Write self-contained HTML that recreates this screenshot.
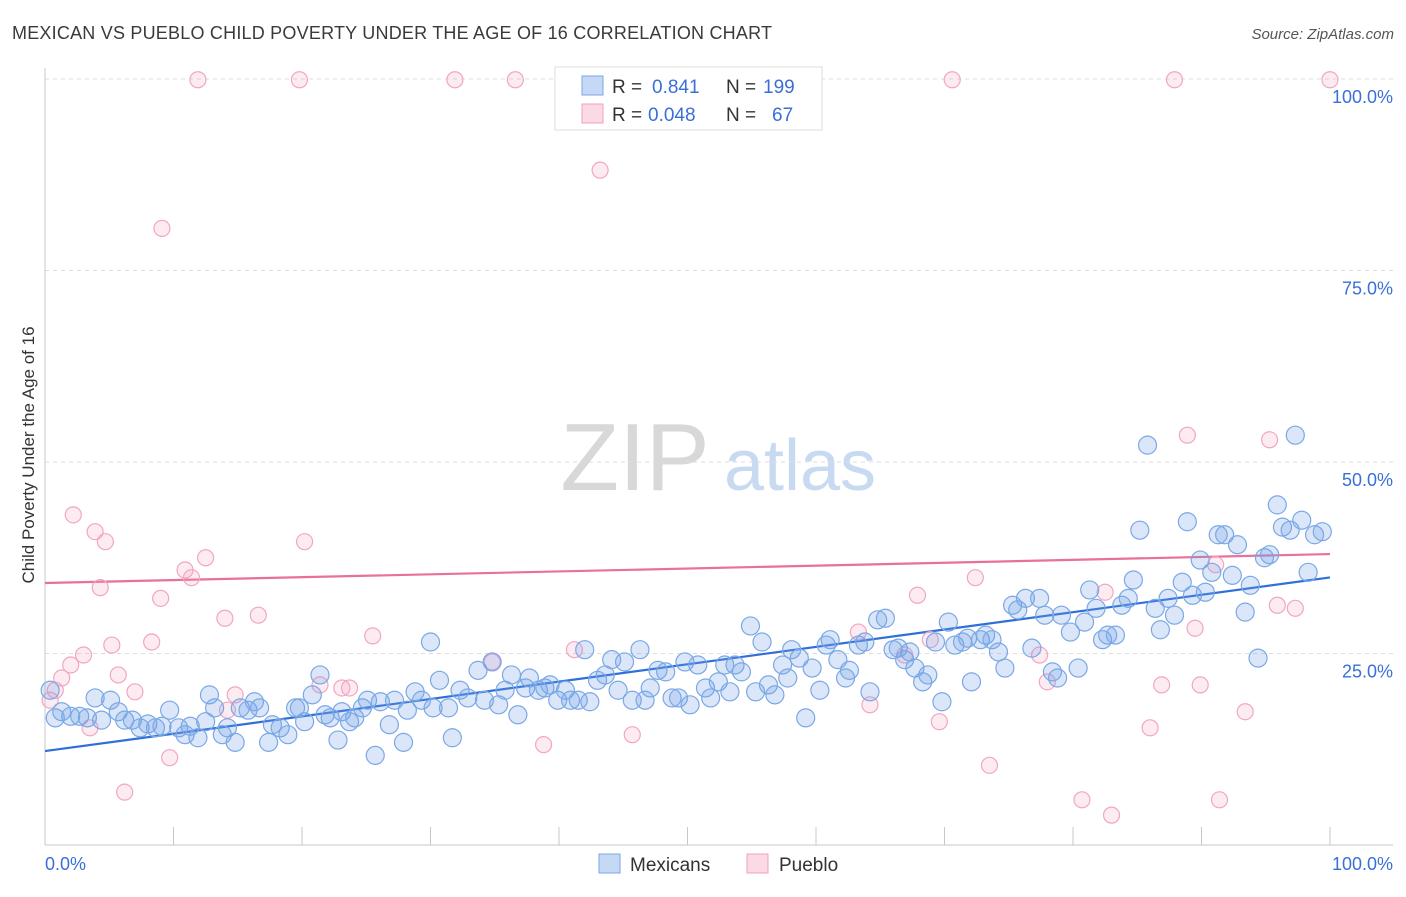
<!DOCTYPE html>
<html><head><meta charset="utf-8"><style>
body{margin:0;background:#fff;font-family:"Liberation Sans",sans-serif;}
svg text{font-family:"Liberation Sans",sans-serif;}
</style></head><body>
<svg id="chart" width="1406" height="892" viewBox="0 0 1406 892" xmlns="http://www.w3.org/2000/svg">
<text x="12" y="39" font-size="18" fill="#3a3a3a" textLength="760" lengthAdjust="spacing">MEXICAN VS PUEBLO CHILD POVERTY UNDER THE AGE OF 16 CORRELATION CHART</text>
<text x="1394" y="39" font-size="15" fill="#555" text-anchor="end" font-style="italic">Source: ZipAtlas.com</text>
<g>
<text x="635" y="490" font-size="96" fill="#d8d8d8" text-anchor="middle" font-family="Liberation Serif, serif">ZIP</text>
<text x="800" y="490" font-size="72" fill="#c8daf2" text-anchor="middle">atlas</text>
</g>
<g id="grid"></g>
<g id="axes"></g>
<g id="lines"></g>
<g id="pts"></g>
<text transform="translate(34,455) rotate(-90)" font-size="17" fill="#333" text-anchor="middle">Child Poverty Under the Age of 16</text>
<text x="45" y="870" font-size="18" fill="#3a6fd8">0.0%</text>
<text x="1393" y="870" font-size="18" fill="#3a6fd8" text-anchor="end">100.0%</text>
<g>
<rect x="555" y="67" width="267" height="63" fill="#fff" stroke="#ddd"/>
<rect x="582" y="76" width="21" height="19" fill="rgba(110,160,230,0.4)" stroke="#7aa6e6"/>
<text x="612" y="93" font-size="19" fill="#333">R =</text>
<text x="652" y="93" font-size="19" fill="#3a6fd8">0.841</text>
<text x="726" y="93" font-size="19" fill="#333">N =</text>
<text x="763" y="93" font-size="19" fill="#3a6fd8">199</text>
<rect x="582" y="104" width="21" height="19" fill="rgba(245,160,190,0.4)" stroke="#f0a0bc"/>
<text x="612" y="121" font-size="19" fill="#333">R =</text>
<text x="648" y="121" font-size="19" fill="#3a6fd8">0.048</text>
<text x="726" y="121" font-size="19" fill="#333">N =</text>
<text x="772" y="121" font-size="19" fill="#3a6fd8">67</text>
</g>
<g>
<rect x="599" y="854" width="21" height="19" fill="rgba(110,160,230,0.4)" stroke="#7aa6e6"/>
<text x="630" y="871" font-size="19" fill="#333">Mexicans</text>
<rect x="747" y="854" width="21" height="19" fill="rgba(245,160,190,0.4)" stroke="#f0a0bc"/>
<text x="779" y="871" font-size="19" fill="#333">Pueblo</text>
</g>
</svg>
<script>
const yTicks=[25,50,75,100];
const yTickLabels=["25.0%","50.0%","75.0%","100.0%"];
const xTicks=[0,10,20,30,40,50,60,70,80,90,100];
const mexX=[0.4,0.8,1.3,2.0,2.7,3.3,3.9,4.4,5.1,5.7,6.2,6.8,7.4,8.0,8.6,9.1,9.7,10.4,10.9,11.3,11.9,12.5,12.8,13.2,13.8,14.2,14.8,15.2,15.8,16.3,16.7,17.4,17.7,18.3,18.9,19.5,19.8,20.2,20.8,21.4,21.8,22.2,22.8,23.1,23.7,24.1,24.7,25.1,25.7,26.1,26.8,27.2,27.9,28.2,28.8,29.3,30.0,30.2,30.7,31.4,31.7,32.3,32.9,33.7,34.2,34.8,35.3,35.8,36.3,36.8,37.4,37.7,38.4,38.9,39.3,39.9,40.5,40.9,41.5,42.0,42.4,43.0,43.6,44.1,44.6,45.1,45.7,46.3,46.7,47.1,47.7,48.3,48.8,49.3,49.8,50.2,50.8,51.4,51.8,52.4,52.9,53.3,53.7,54.2,54.9,55.3,55.8,56.3,56.8,57.4,57.8,58.1,58.7,59.2,59.7,60.3,60.8,61.1,61.7,62.3,62.6,63.3,63.8,64.2,64.8,65.4,66.0,66.4,66.9,67.3,67.7,68.3,68.7,69.3,69.8,70.3,70.8,71.4,71.8,72.1,72.8,73.2,73.7,74.2,74.7,75.3,75.7,76.3,76.8,77.4,77.8,78.4,78.8,79.1,79.8,80.4,80.9,81.3,81.8,82.3,82.7,83.3,83.8,84.3,84.7,85.2,85.8,86.4,86.8,87.4,87.9,88.5,88.9,89.3,89.9,90.3,90.8,91.3,91.8,92.4,92.8,93.4,93.8,94.4,94.9,95.3,95.9,96.3,96.9,97.3,97.8,98.3,98.8,99.4];
const mexY=[20.2,16.6,17.4,16.8,16.8,16.6,19.2,16.3,18.9,17.4,16.3,16.3,15.3,15.8,15.3,15.5,17.6,15.3,14.4,15.5,14.0,16.1,19.6,17.9,14.4,15.3,13.4,17.9,17.6,18.7,17.9,13.4,15.7,15.3,14.4,17.9,17.9,16.1,19.6,22.2,17.0,16.6,13.7,17.4,16.1,16.6,17.9,18.9,11.7,18.7,15.7,18.9,13.4,17.6,20.0,18.9,26.5,17.9,21.5,17.9,14.0,20.2,19.2,22.8,18.9,23.9,18.3,20.2,22.2,17.0,20.5,21.8,20.2,20.5,20.9,18.9,20.2,18.9,18.9,25.5,18.7,21.5,22.2,24.2,20.2,23.9,18.9,25.5,18.9,20.5,22.8,22.6,19.2,19.2,23.9,18.3,23.5,20.5,19.2,21.3,23.5,20.0,23.5,22.6,28.6,20.0,26.5,20.9,19.6,23.5,21.8,25.5,24.4,16.6,23.1,20.2,26.1,26.8,24.2,21.8,22.8,26.1,26.5,20.0,29.4,29.6,25.5,25.7,24.2,25.2,23.1,21.3,22.2,26.5,18.7,29.1,26.1,26.5,27.0,21.3,26.8,27.4,26.8,25.2,23.1,31.3,30.7,32.2,25.7,32.2,30.0,22.6,21.8,30.0,27.8,23.1,29.1,33.3,30.9,26.8,27.4,27.4,31.3,32.2,34.6,41.1,52.2,30.9,28.1,32.2,30.0,34.3,42.2,32.6,37.2,33.0,35.6,40.5,40.5,35.2,39.2,30.4,33.9,24.4,37.5,37.9,44.4,41.5,41.1,53.5,42.4,35.6,40.5,40.9];
const pubX=[0.4,0.8,1.3,2.0,2.2,3.0,3.5,3.9,4.3,4.7,5.2,5.7,6.2,7.0,8.3,9.0,9.1,9.7,10.9,11.4,11.9,12.5,14.0,14.2,14.8,16.6,19.8,20.2,21.4,23.1,23.7,25.5,31.9,34.8,36.6,38.8,41.2,43.2,45.7,59.5,63.3,64.2,66.9,67.9,68.9,69.6,70.6,72.4,73.5,77.4,78.0,80.7,82.5,83.0,86.0,86.9,87.9,88.9,89.5,89.9,91.1,91.4,93.4,95.3,95.9,97.3,100];
const pubY=[18.9,20.2,21.8,23.5,43.1,24.8,15.3,40.9,33.6,39.6,26.1,22.2,6.9,20.0,26.5,32.2,80.5,11.4,35.9,34.9,99.9,37.5,29.6,17.6,19.6,30.0,99.9,39.6,20.9,20.5,20.5,27.3,99.9,23.9,99.9,13.1,25.5,88.1,14.4,99.9,27.8,18.3,24.8,32.6,26.8,16.1,99.9,34.9,10.4,24.8,21.3,5.9,33.0,3.9,15.3,20.9,99.9,53.5,28.3,20.9,36.6,5.9,17.4,52.9,31.3,30.9,99.9];
const X0=45,X1=1330,Y0=845,Y1=79;
const sx=v=>X0+(X1-X0)*v/100;
const sy=v=>Y0-(Y0-Y1)*v/100;
const NS="http://www.w3.org/2000/svg";
function mk(tag,attrs,parent){const e=document.createElementNS(NS,tag);for(const k in attrs)e.setAttribute(k,attrs[k]);document.getElementById(parent).appendChild(e);return e;}
yTicks.forEach((t,i)=>{
 const g=mk('line',{x1:X0,x2:1393,y1:sy(t),y2:sy(t),stroke:'#dcdcdc','stroke-dasharray':'4,4'},'grid');
 
 
 const l=mk('text',{x:1393,y:sy(t)+24,'font-size':18,fill:'#3a6fd8','text-anchor':'end'},'grid');
 l.textContent=yTickLabels[i];
 
 
});
const ya=mk('line',{x1:X0,x2:X0,y1:68,y2:Y0,stroke:'#c8c8c8'},'axes');


const xa=mk('line',{x1:X0,x2:1393,y1:Y0,y2:Y0,stroke:'#c8c8c8'},'axes');


xTicks.forEach(t=>{
 const k=mk('line',{x1:sx(t),x2:sx(t),y1:Y0,y2:Y0-18,stroke:'#c8c8c8'},'axes');
 
 
});
function fit(xs,ys){const n=xs.length;let mx=0,my=0;for(let i=0;i<n;i++){mx+=xs[i];my+=ys[i];}mx/=n;my/=n;let a=0,b=0;for(let i=0;i<n;i++){a+=(xs[i]-mx)*(ys[i]-my);b+=(xs[i]-mx)**2;}const s=a/b;return [my-s*mx,my+s*(100-mx)];}
function pts(xs,ys,r,fill,stroke,name){xs.forEach((x,i)=>{const c=mk('circle',{cx:sx(x),cy:sy(ys[i]),r:r,fill:fill,stroke:stroke,'stroke-width':1.2},'pts');
 
 });}
pts(pubX,pubY,8,'rgba(245,165,195,0.22)','#f2a6c0','pueblo-point');
pts(mexX,mexY,9,'rgba(110,160,230,0.25)','#7aa8e6','mexicans-point');
const fm=fit(mexX,mexY),fp=fit(pubX,pubY);
const lm=mk('line',{x1:sx(0),y1:sy(fm[0]),x2:sx(100),y2:sy(fm[1]),stroke:'#2f6fd8','stroke-width':2.2},'lines');


const lp=mk('line',{x1:sx(0),y1:sy(fp[0]),x2:sx(100),y2:sy(fp[1]),stroke:'#e8709a','stroke-width':2.2},'lines');


</script>
</body></html>
